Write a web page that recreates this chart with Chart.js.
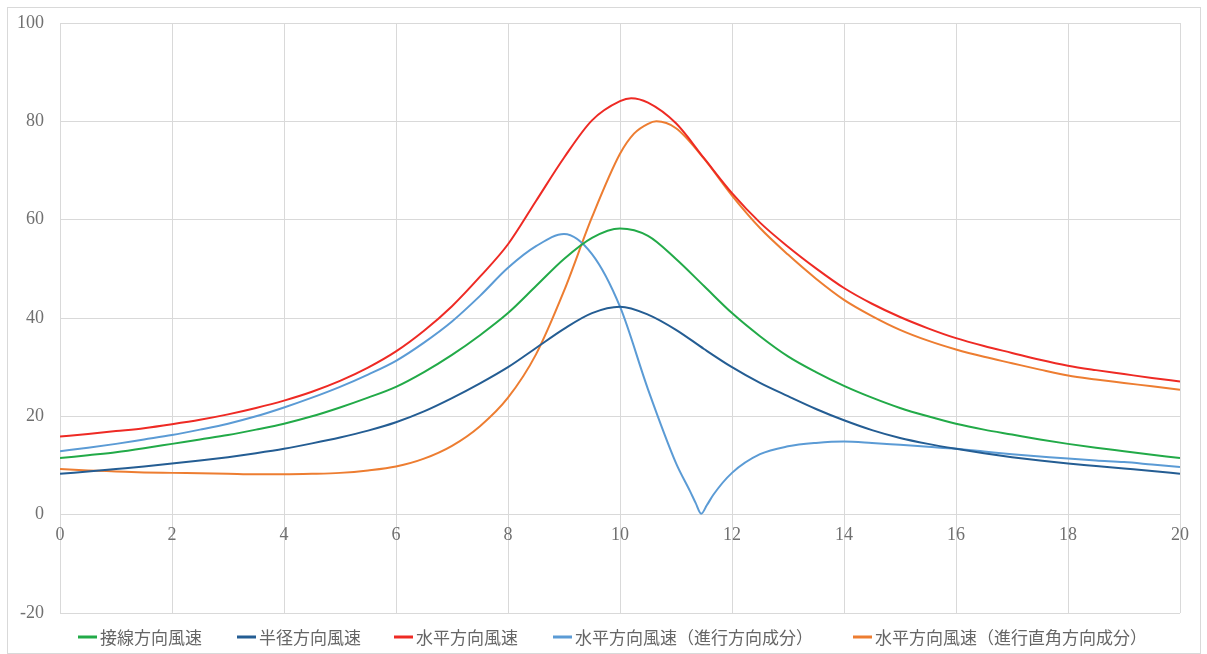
<!DOCTYPE html>
<html lang="ja">
<head>
<meta charset="utf-8">
<title>風速分布</title>
<script src="https://cdn.jsdelivr.net/npm/chart.js@4.4.1/dist/chart.umd.min.js"></script>
<style>
  html, body { margin: 0; padding: 0; background: #fff; }
</style>
</head>
<body>
<canvas id="chart" width="1207" height="654"></canvas>
<script>
// x positions shared by the tangential and radial series
const xs = [0, 0.5, 1, 1.5, 2, 2.5, 3, 3.5, 4, 4.5, 5, 5.5, 6, 6.5, 7, 7.5, 8, 8.5, 9, 9.5,
  10, 10.5, 11, 11.5, 12, 12.5, 13, 13.5, 14, 14.5, 15, 15.5, 16, 16.5, 17, 17.5, 18, 18.5, 19, 19.5, 20];

const tangential = [11.5, 12.1, 12.7, 13.5, 14.4, 15.3, 16.2, 17.3, 18.5, 20.0, 21.8, 23.8, 26.0, 29.0, 32.5, 36.5, 41.0, 46.5, 52.0, 56.3,
  58.2, 56.7, 52.0, 46.5, 41.0, 36.3, 32.2, 29.0, 26.2, 23.8, 21.7, 20.0, 18.5, 17.3, 16.3, 15.3, 14.4, 13.6, 12.9, 12.2, 11.5];

const radial = [8.3, 8.8, 9.3, 9.8, 10.4, 11.0, 11.7, 12.5, 13.4, 14.5, 15.7, 17.1, 18.8, 21.0, 23.7, 26.7, 30.0, 33.9, 37.8, 41.0,
  42.3, 40.7, 37.6, 33.7, 30.0, 26.8, 24.1, 21.5, 19.2, 17.2, 15.6, 14.4, 13.4, 12.5, 11.7, 11.0, 10.4, 9.9, 9.4, 8.9, 8.3];

// horizontal speed, with its peak near x = 10.2
const xsHorizontal = [0, 0.5, 1, 1.5, 2, 2.5, 3, 3.5, 4, 4.5, 5, 5.5, 6, 6.5, 7, 7.5, 8, 8.5, 9, 9.5,
  10, 10.2, 10.5, 11, 11.5, 12, 12.5, 13, 13.5, 14, 14.5, 15, 15.5, 16, 16.5, 17, 17.5, 18, 18.5, 19, 19.5, 20];
const horizontal = [15.9, 16.4, 17.0, 17.6, 18.4, 19.3, 20.4, 21.7, 23.2, 25.0, 27.2, 29.9, 33.2, 37.4, 42.4, 48.4, 55.0, 63.8, 72.6, 80.2,
  84.1, 84.7, 83.8, 79.6, 72.5, 65.4, 59.4, 54.5, 50.1, 46.1, 42.9, 40.2, 37.9, 35.9, 34.3, 32.9, 31.5, 30.3, 29.4, 28.6, 27.8, 27.1];

// cross-track component, peak near x = 10.65
const xsCross = [0, 0.5, 1, 1.5, 2, 2.5, 3, 3.5, 4, 4.5, 5, 5.5, 6, 6.5, 7, 7.5, 8, 8.5, 9, 9.5,
  10, 10.25, 10.5, 10.65, 11, 11.5, 12, 12.5, 13, 13.5, 14, 14.5, 15, 15.5, 16, 16.5, 17, 17.5, 18, 18.5, 19, 19.5, 20];
const crossTrack = [9.3, 9.0, 8.8, 8.6, 8.5, 8.4, 8.3, 8.2, 8.2, 8.3, 8.5, 9.0, 9.8, 11.4, 14.0, 18.0, 23.8, 32.6, 45.5, 60.5,
  73.4, 77.5, 79.5, 80.0, 78.6, 72.4, 64.9, 58.3, 52.9, 48.0, 43.7, 40.4, 37.6, 35.4, 33.6, 32.1, 30.8, 29.5, 28.3, 27.5, 26.8, 26.1, 25.4];

// along-track component has a sharp dip near x = 11.45
const xsAlong = [0, 0.5, 1, 1.5, 2, 2.5, 3, 3.5, 4, 4.5, 5, 5.5, 6, 6.5, 7, 7.5, 8, 8.5, 9, 9.5,
  10, 10.5, 11, 11.25, 11.35, 11.45, 11.55, 11.67, 12, 12.5, 13, 13.5, 14, 14.5, 15, 15.5, 16, 16.5, 17, 17.5, 18, 18.5, 19, 19.5, 20];
const alongTrack = [12.9, 13.6, 14.4, 15.3, 16.2, 17.3, 18.5, 20.0, 21.8, 23.8, 26.0, 28.5, 31.3, 35.0, 39.3, 44.5, 50.2, 54.6, 57.1, 53.0,
  42.3, 25.5, 10.5, 4.8, 2.4, 0.2, 1.9, 4.1, 8.5, 12.3, 13.9, 14.6, 14.9, 14.6, 14.2, 13.8, 13.4, 12.85, 12.3, 11.85, 11.4, 11.0, 10.7, 10.2, 9.7];

const xTicks = [0, 2, 4, 6, 8, 10, 12, 14, 16, 18, 20];
const yTicks = [-20, 0, 20, 40, 60, 80, 100];

const gridColor = '#d9d9d9';
const tickColor = '#707070';
const serif = "'Liberation Serif', 'DejaVu Serif', serif";
const jp = "'Noto Sans CJK JP', sans-serif";

const pts = (x, y) => x.map((v, i) => ({ x: v, y: y[i] }));

function series(label, x, y, color) {
  return {
    label, data: pts(x, y),
    borderColor: color, backgroundColor: color,
    borderWidth: 2, pointRadius: 0, fill: false,
    cubicInterpolationMode: 'monotone',
  };
}

const frame = {
  id: 'frame',
  beforeDraw(chart) {
    const ctx = chart.ctx;
    ctx.save();
    ctx.strokeStyle = gridColor;
    ctx.lineWidth = 1;
    ctx.strokeRect(7.5, 7.5, 1193, 646);
    ctx.restore();
  }
};

// legend drawn by hand: short line then label, laid out like the original
const legendStarts = [78, 237, 394, 553, 853];
const bottomLegend = {
  id: 'bottomLegend',
  afterDraw(chart) {
    const ctx = chart.ctx;
    const y = 637;
    ctx.save();
    ctx.font = `17px ${jp}`;
    ctx.textBaseline = 'middle';
    chart.data.datasets.forEach((d, i) => {
      const x = legendStarts[i];
      ctx.strokeStyle = d.borderColor;
      ctx.lineWidth = 3;
      ctx.beginPath();
      ctx.moveTo(x, y);
      ctx.lineTo(x + 19, y);
      ctx.stroke();
      ctx.fillStyle = '#666666';
      ctx.fillText(d.label, x + 22, y + 1);
    });
    ctx.restore();
  }
};

new Chart(document.getElementById('chart'), {
  type: 'line',
  data: {
    datasets: [
      series('接線方向風速', xs, tangential, '#22aa48'),
      series('半径方向風速', xs, radial, '#245d93'),
      series('水平方向風速', xsHorizontal, horizontal, '#ee2a24'),
      series('水平方向風速（進行方向成分）', xsAlong, alongTrack, '#5b9bd5'),
      series('水平方向風速（進行直角方向成分）', xsCross, crossTrack, '#ed7d31'),
    ],
  },
  options: {
    responsive: false,
    animation: false,
    layout: { padding: { left: 0, right: 27, top: 23, bottom: 41 } },
    scales: {
      x: {
        type: 'linear', min: 0, max: 20,
        position: { y: 0 },
        afterBuildTicks: s => { s.ticks = xTicks.map(v => ({ value: v })); },
        ticks: { color: tickColor, font: { family: serif, size: 18 }, padding: 10, maxRotation: 0 },
        grid: { color: gridColor, drawTicks: false },
        border: { display: false },
      },
      y: {
        min: -20, max: 100,
        afterBuildTicks: s => { s.ticks = yTicks.map(v => ({ value: v })); },
        afterFit: s => { s.width = 60; s.paddingTop = 0; s.paddingBottom = 0; },
        ticks: { color: tickColor, font: { family: serif, size: 18 }, padding: 16 },
        grid: { color: gridColor, drawTicks: false },
        border: { display: false },
      },
    },
    plugins: {
      tooltip: { enabled: false },
      legend: { display: false },
    },
  },
  plugins: [frame, bottomLegend],
});
</script>
</body>
</html>
